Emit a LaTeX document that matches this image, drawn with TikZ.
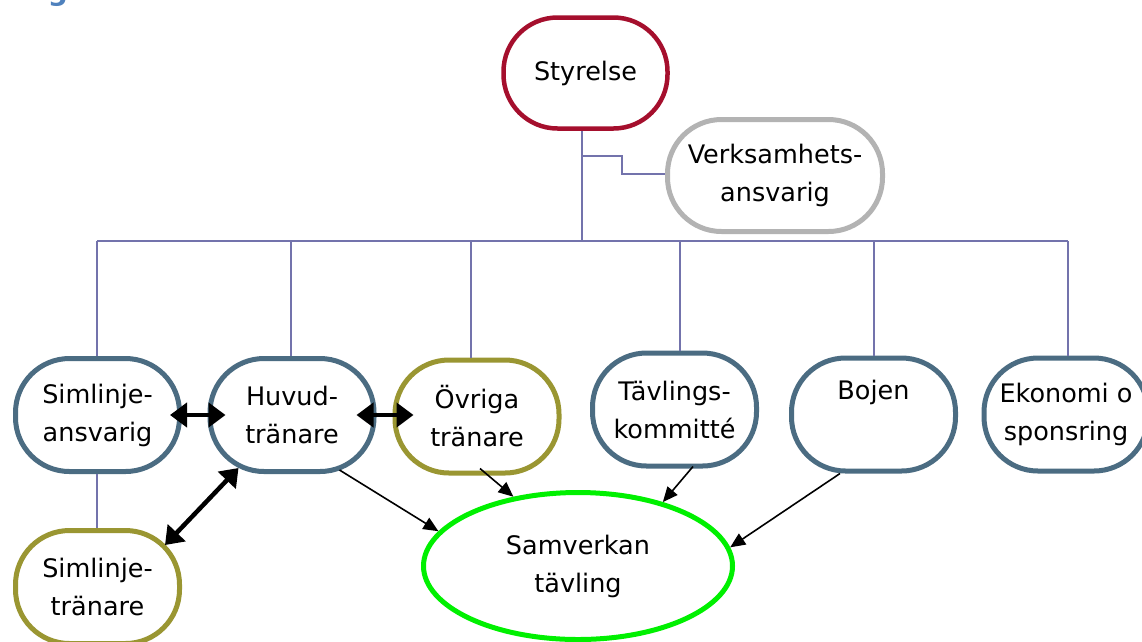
\documentclass[tikz,border=0pt]{standalone}
\usepackage{fontspec}
\setmainfont{DejaVu Sans}
\usetikzlibrary{arrows.meta,shapes.geometric}
\definecolor{cred}{HTML}{A50F2D}
\definecolor{cgray}{HTML}{B3B3B3}
\definecolor{csteel}{HTML}{4B6C82}
\definecolor{colive}{HTML}{9A9632}
\definecolor{cgreen}{HTML}{00F000}
\definecolor{ctree}{HTML}{7373AC}
\definecolor{chead}{HTML}{4F81BD}
\tikzset{
  box/.style={draw, line width=5pt, rounded corners=54pt, minimum width=164pt,
    minimum height=113pt, align=center, fill=white, inner sep=0pt,
    font=\fontsize{25.5}{38}\selectfont},
  tree/.style={draw=ctree, line width=1.5pt},
  bigarrow/.style={line width=4.5pt, {Triangle[length=17pt,width=24pt]}-{Triangle[length=17pt,width=24pt]}},
  thinarrow/.style={line width=1.6pt, -{Triangle[length=15pt,width=13pt]}},
}
\begin{document}
\begin{tikzpicture}[x=1pt,y=-1pt]
\useasboundingbox (0,0) rectangle (1142,641);
% cut-off heading
\node[anchor=base, text=chead, font=\fontsize{28}{30}\selectfont\bfseries, inner sep=0pt] (head) at (58,0) {g};

% top nodes
\node[box, draw=cred, line width=4.5pt, minimum width=164pt, minimum height=111pt] (sty) at (585.5,73) {Styrelse};
\node[box, draw=cgray, minimum width=215pt, minimum height=112pt] (verk) at (775,175.5) {Verksamhets-\\ansvarig};

% row nodes
\node[box, draw=csteel] (ans) at (97.5,415) {Simlinje-\\ansvarig};
\node[box, draw=csteel] (huv) at (292,415) {Huvud-\\tränare};
\node[box, draw=colive] (ovr) at (477,416.5) {Övriga\\tränare};
\node[box, draw=csteel] (tav) at (674.5,409.5) {Tävlings-\\kommitté};
\node[box, draw=csteel] (boj) at (873.5,414.5) {Bojen\\\strut};
\node[box, draw=csteel] (eko) at (1066,414.5) {Ekonomi o\\sponsring};
\node[box, draw=colive] (tra) at (97.5,587) {Simlinje-\\tränare};

% ellipse
\node[draw=cgreen, line width=5pt, ellipse, minimum width=309pt, minimum height=147pt,
  align=center, inner sep=0pt, font=\fontsize{25.5}{38}\selectfont] (sam) at (578,566) {Samverkan\\tävling};

% tree connectors
\coordinate (hub) at (582,241);
\coordinate (bend) at (582,156);
\coordinate (bend2) at (622,156);
\coordinate (bend3) at (622,174);
\coordinate (left) at (97,241);
\coordinate (right) at (1068,241);
\draw[tree] (sty.south -| hub) -- (hub);
\draw[tree] (bend) -- (bend2) -- (bend3) -- (bend3 -| verk.west);
\draw[tree] (left) -- (right);
\draw[tree] (left) -- (left |- ans.north);
\draw[tree] (291,241) -- (291,356);
\draw[tree] (471,241) -- (471,358);
\draw[tree] (680,241) -- (680,351);
\draw[tree] (874,241) -- (874,356);
\draw[tree] (right) -- (right |- eko.north);
\draw[tree] (ans.south -| left) -- (tra.north -| left);

% thick double arrows
\draw[bigarrow] ([xshift=-12pt]ans.east) -- ([xshift=18pt]huv.west);
\draw[bigarrow] ([xshift=-20pt]huv.east) -- ([xshift=21pt]ovr.west |- huv.east);
\draw[bigarrow] ([xshift=31pt,yshift=6pt]huv.south west) -- ([xshift=-17pt,yshift=-17pt]tra.north east);

% thin arrows
\draw[thinarrow] ([xshift=-37pt,yshift=4pt]huv.south east) -- (sam.166);
\draw[thinarrow] ([xshift=3pt,yshift=7pt]ovr.south) -- (sam.133);
\draw[thinarrow] ([xshift=18.5pt,yshift=2pt]tav.south) -- (sam.37.5);
\draw[thinarrow] ([xshift=-33.5pt]boj.south) -- (sam.7.7);
\end{tikzpicture}
\end{document}
